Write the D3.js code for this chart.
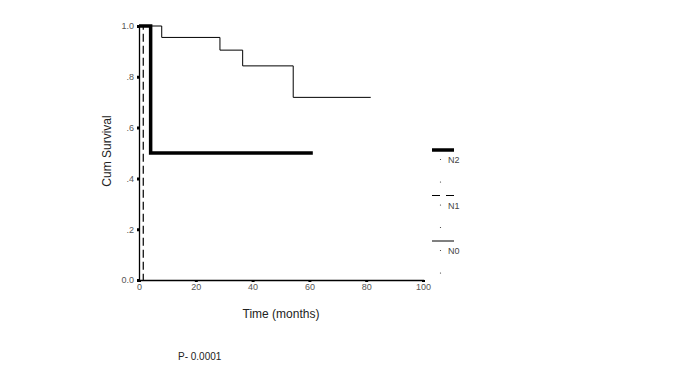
<!DOCTYPE html>
<html>
<head>
<meta charset="utf-8">
<script src="https://cdn.jsdelivr.net/npm/d3@7"></script>
<style>
  body { margin: 0; background: #fff; }
  text { font-family: "Liberation Sans", Arial, sans-serif; }
</style>
</head>
<body>
<main></main>
<script>
// tamaño
const w = 682, h = 377;

// datos (escalones de Kaplan-Meier)
const n0Time = [0, 8, 28.5, 36.5, 54.3, 81.6];
const n0Surv = [1.0, 0.955, 0.905, 0.843, 0.719, 0.719];
const n1Time = [0, 1.5, 1.5];
const n1Surv = [1.0, 1.0, 0.0];
const n2Time = [0, 4.1, 61.2];
const n2Surv = [1.0, 0.5, 0.5];

const xTicks = [0, 20, 40, 60, 80, 100];
const yTicks = [0, 0.2, 0.4, 0.6, 0.8, 1.0];
const yTickLabels = ['0.0', '.2', '.4', '.6', '.8', '1.0'];
const legendLabels = ['N2', 'N1', 'N0'];

var svg = d3.select('main')
    .append('svg')
    .attr('width', w)
    .attr('height', h);

const x = d3.scaleLinear().domain([0, 100]).range([139, 423]);
const y = d3.scaleLinear().domain([0, 1]).range([280, 26]);

// ejes
const ejeX = svg.append('g').attr('transform', 'translate(0,280)')
    .call(d3.axisBottom(x).tickValues(xTicks).tickSize(2).tickPadding(2));
const ejeY = svg.append('g').attr('transform', 'translate(139,0)')
    .call(d3.axisLeft(y).tickValues(yTicks).tickSize(2).tickPadding(3)
        .tickFormat((d, i) => yTickLabels[i]));

[ejeX, ejeY].forEach(g => {
    g.select('.domain').attr('stroke', '#000').attr('stroke-width', 1.3);
    g.selectAll('.tick line').attr('stroke', '#000').attr('stroke-width', 3);
    g.selectAll('.tick text').attr('fill', '#555').style('font-size', '9px');
});

// curvas
const linea = d3.line()
    .x(d => x(d[0]))
    .y(d => y(d[1]))
    .curve(d3.curveStepAfter);

function pares(t, s) { return t.map((v, i) => [v, s[i]]); }

svg.append('path')
    .attr('d', linea(pares(n0Time, n0Surv)))
    .attr('fill', 'none').attr('stroke', '#000').attr('stroke-width', 1);

svg.append('path')
    .attr('d', linea(pares(n1Time, n1Surv)))
    .attr('fill', 'none').attr('stroke', '#000').attr('stroke-width', 1.2)
    .attr('stroke-dasharray', '8,4');

svg.append('path')
    .attr('d', linea(pares(n2Time, n2Surv)))
    .attr('fill', 'none').attr('stroke', '#000').attr('stroke-width', 3.5);

// titulos
svg.append('text')
    .attr('x', 281).attr('y', 318)
    .attr('text-anchor', 'middle')
    .style('font-size', '12px')
    .attr('fill', '#222')
    .text('Time (months)');

svg.append('text')
    .attr('transform', 'translate(111,151) rotate(-90)')
    .attr('text-anchor', 'middle')
    .style('font-size', '12px')
    .attr('fill', '#222')
    .text('Cum Survival');

svg.append('text')
    .attr('x', 178).attr('y', 360)
    .style('font-size', '10px')
    .attr('fill', '#222')
    .text('P- 0.0001');

// leyenda
const estilos = [
    { ancho: 3.5, guion: null },
    { ancho: 1, guion: '8,6' },
    { ancho: 1, guion: null }
];
const leyenda = svg.append('g').attr('transform', 'translate(432,150)');
legendLabels.forEach((lab, i) => {
    const g = leyenda.append('g').attr('transform', `translate(0,${i * 45.5})`);
    g.append('line')
        .attr('x1', 0).attr('x2', 22)
        .attr('stroke', '#000')
        .attr('stroke-width', estilos[i].ancho)
        .attr('stroke-dasharray', estilos[i].guion);
    g.append('circle').attr('cx', 8.5).attr('cy', 9.5).attr('r', 0.6).attr('fill', '#333');
    g.append('text')
        .attr('x', 16).attr('y', 13)
        .style('font-size', '9px')
        .attr('fill', '#444')
        .text(lab);
    g.append('circle').attr('cx', 8.5).attr('cy', 32).attr('r', 0.6).attr('fill', '#333');
});
</script>
</body>
</html>
